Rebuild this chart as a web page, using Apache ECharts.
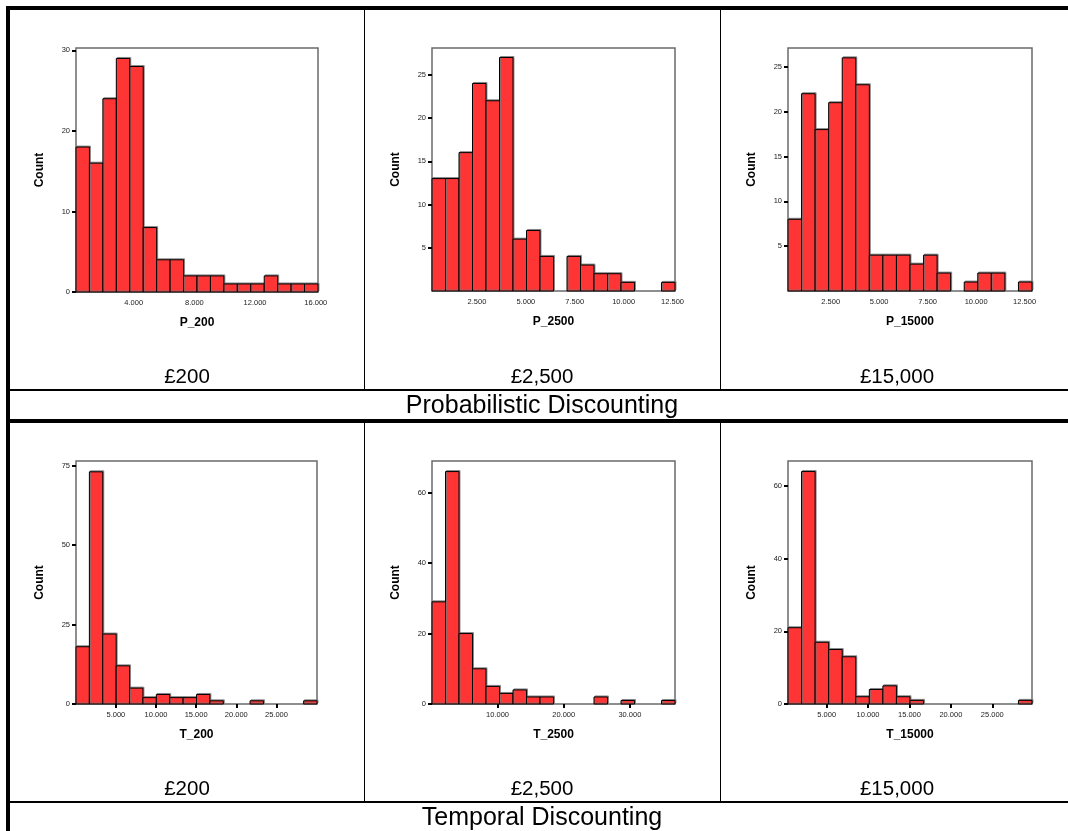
<!DOCTYPE html>
<html>
<head>
<meta charset="utf-8">
<script src="https://cdn.jsdelivr.net/npm/echarts@6/dist/echarts.min.js"></script>
<style>
html,body{margin:0;padding:0;background:#fff;}
#chart{width:1068px;height:831px;}
</style>
</head>
<body>
<div id="chart"></div>
<script>
// ---- Data ----
const panelNames = ['P_200', 'P_2500', 'P_15000', 'T_200', 'T_2500', 'T_15000'];

const p200Counts   = [18, 16, 24, 29, 28, 8, 4, 4, 2, 2, 2, 1, 1, 1, 2, 1, 1, 1];
const p2500Counts  = [13, 13, 16, 24, 22, 27, 6, 7, 4, 0, 4, 3, 2, 2, 1, 0, 0, 1];
const p15000Counts = [8, 22, 18, 21, 26, 23, 4, 4, 4, 3, 4, 2, 0, 1, 2, 2, 0, 1];
const t200Counts   = [18, 73, 22, 12, 5, 2, 3, 2, 2, 3, 1, 0, 0, 1, 0, 0, 0, 1];
const t2500Counts  = [29, 66, 20, 10, 5, 3, 4, 2, 2, 0, 0, 0, 2, 0, 1, 0, 0, 1];
const t15000Counts = [21, 64, 17, 15, 13, 2, 4, 5, 2, 1, 0, 0, 0, 0, 0, 0, 0, 1];

// histogram bin layout: first bin left edge and bin width
const binStarts = [0.2, 0.204, 0.3, 0.03, 0.1, 0.33];
const binWidths = [0.886, 0.69, 0.699, 1.668, 2.04, 1.637];

const yMaxes = [30.3, 28.1, 27.1, 76.4, 69.0, 66.9];

const p200YTicks   = [0, 10, 20, 30];
const p2500YTicks  = [5, 10, 15, 20, 25];
const p15000YTicks = [5, 10, 15, 20, 25];
const t200YTicks   = [0, 25, 50, 75];
const t2500YTicks  = [0, 20, 40, 60];
const t15000YTicks = [0, 20, 40, 60];

const p200XTicks   = [4, 8, 12, 16];
const p2500XTicks  = [2.5, 5, 7.5, 10, 12.5];
const p15000XTicks = [2.5, 5, 7.5, 10, 12.5];
const t200XTicks   = [5, 10, 15, 20, 25];
const t2500XTicks  = [10, 20, 30];
const t15000XTicks = [5, 10, 15, 20, 25];

const amountLabels = ['£200', '£2,500', '£15,000'];
const sectionLabels = ['Probabilistic Discounting', 'Temporal Discounting'];

// ---- Build ----
const countsList = [p200Counts, p2500Counts, p15000Counts, t200Counts, t2500Counts, t15000Counts];
const yTicksList = [p200YTicks, p2500YTicks, p15000YTicks, t200YTicks, t2500YTicks, t15000YTicks];
const xTicksList = [p200XTicks, p2500XTicks, p15000XTicks, t200XTicks, t2500XTicks, t15000XTicks];

const gridBoxes = [
  {left: 76, top: 48, width: 242, height: 244},
  {left: 432, top: 48, width: 243, height: 243},
  {left: 788, top: 48, width: 244, height: 243},
  {left: 76, top: 461, width: 241, height: 243},
  {left: 432, top: 461, width: 243, height: 243},
  {left: 788, top: 461, width: 244, height: 243}
];

const FONT = "'Liberation Sans', Arial, Helvetica, sans-serif";
const RED = '#ff3434';

const grids = [], xAxes = [], yAxes = [], series = [];
for (let i = 0; i < 6; i++) {
  const b = gridBoxes[i];
  grids.push({
    left: b.left, top: b.top, width: b.width, height: b.height,
    show: true, borderColor: '#6a6a6a', borderWidth: 1.5, backgroundColor: 'transparent'
  });
  const isT = i >= 3;
  const xmin = binStarts[i];
  const xmax = binStarts[i] + binWidths[i] * countsList[i].length;
  xAxes.push({
    type: 'value', gridIndex: i, min: xmin, max: xmax,
    name: panelNames[i], nameLocation: 'middle', nameGap: 25,
    nameTextStyle: {fontFamily: FONT, fontWeight: 'bold', fontSize: 12, color: '#000'},
    axisLine: {show: false},
    splitLine: {show: false},
    axisTick: {show: isT, length: 4, lineStyle: {color: '#000', width: 2}, customValues: xTicksList[i]},
    axisLabel: {
      fontFamily: FONT, fontSize: 7.5, color: '#222', margin: 7,
      customValues: xTicksList[i],
      formatter: v => Number(v).toFixed(3)
    }
  });
  yAxes.push({
    type: 'value', gridIndex: i, min: 0, max: yMaxes[i],
    name: 'Count', nameLocation: 'middle', nameGap: 30, nameRotate: 90,
    nameTextStyle: {fontFamily: FONT, fontWeight: 'bold', fontSize: 12, color: '#000'},
    axisLine: {show: false},
    splitLine: {show: false},
    axisTick: {show: true, length: 4, lineStyle: {color: '#000', width: 2}, customValues: yTicksList[i]},
    axisLabel: {
      fontFamily: FONT, fontSize: 7.5, color: '#222', margin: 6,
      customValues: yTicksList[i],
      formatter: v => String(v)
    }
  });
  const data = countsList[i].map((c, k) => [binStarts[i] + binWidths[i] * k, binStarts[i] + binWidths[i] * (k + 1), c]);
  series.push({
    type: 'custom', xAxisIndex: i, yAxisIndex: i,
    data: data,
    encode: {x: [0, 1], y: 2},
    renderItem: function (params, api) {
      const c = api.value(2);
      if (!c) return null;
      const p0 = api.coord([api.value(0), 0]);
      const p1 = api.coord([api.value(1), c]);
      return {
        type: 'rect',
        shape: {x: p0[0], y: p1[1], width: p1[0] - p0[0], height: p0[1] - p1[1]},
        style: {fill: RED, stroke: '#000', lineWidth: 1,
                shadowColor: 'rgba(120,120,120,0.8)', shadowOffsetX: 1, shadowOffsetY: -1, shadowBlur: 0}
      };
    }
  });
}

// ---- Table frame ----
const graphics = [];
function rect(x, y, w, h) {
  graphics.push({type: 'rect', shape: {x: x, y: y, width: w, height: h}, style: {fill: '#000'}, silent: true, z: 100});
}
rect(6, 6, 1062, 4);     // top thick
rect(6, 6, 4, 825);      // left thick
rect(10, 389, 1058, 2);  // under amount labels (top)
rect(10, 419, 1058, 4);  // thick middle
rect(10, 801, 1058, 2);  // under amount labels (bottom)
rect(364, 10, 1, 379);
rect(720, 10, 1, 379);
rect(364, 423, 1, 378);
rect(720, 423, 1, 378);

function text(t, x, y, size) {
  graphics.push({type: 'text', x: x, y: y, silent: true, z: 100,
    style: {text: t, fontFamily: FONT, fontSize: size, fill: '#000', align: 'center', verticalAlign: 'middle'}});
}
const colCenters = [187, 542, 897];
for (let c = 0; c < 3; c++) {
  text(amountLabels[c], colCenters[c], 377, 20.5);
  text(amountLabels[c], colCenters[c], 789, 20.5);
}
text(sectionLabels[0], 542, 406, 25);
text(sectionLabels[1], 542, 818, 25);

const chart = echarts.init(document.getElementById('chart'), null, {renderer: 'canvas'});
chart.setOption({
  backgroundColor: '#fff',
  animation: false,
  grid: grids,
  xAxis: xAxes,
  yAxis: yAxes,
  series: series,
  graphic: graphics
});
</script>
</body>
</html>
